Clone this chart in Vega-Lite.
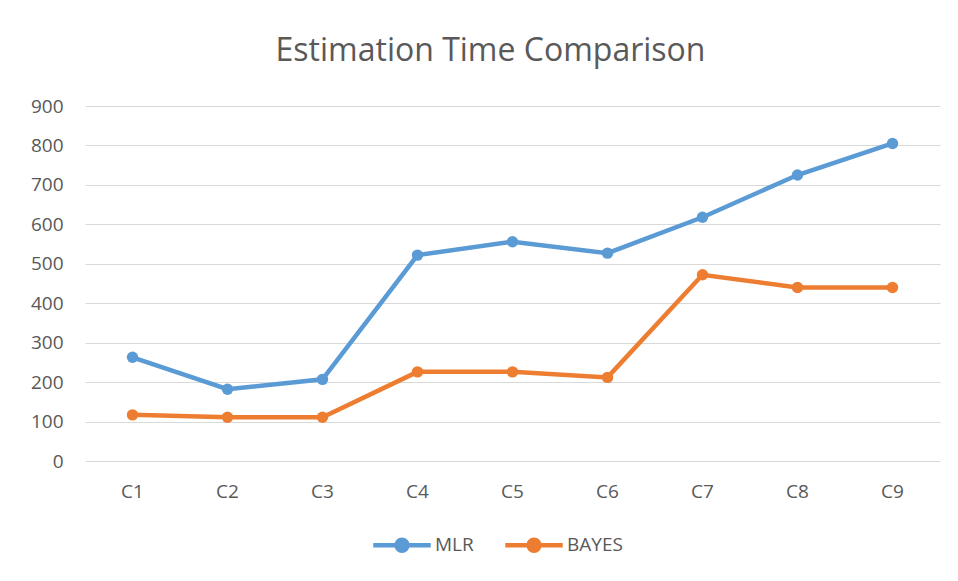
{
  "$schema": "https://vega.github.io/schema/vega-lite/v6.json",
  "autosize": "none",
  "width": 855,
  "height": 355,
  "padding": {"left": 85, "top": 106, "right": 18, "bottom": 120},
  "background": "white",
  "title": {
    "text": "Estimation Time Comparison",
    "anchor": "middle",
    "fontSize": 32,
    "font": "Open Sans",
    "fontWeight": "normal",
    "color": "#595959",
    "offset": 29,
    "dx": -22
  },
  "data": {
    "values": [
      {"cat": "C1", "series": "MLR", "value": 263},
      {"cat": "C2", "series": "MLR", "value": 182},
      {"cat": "C3", "series": "MLR", "value": 207},
      {"cat": "C4", "series": "MLR", "value": 522},
      {"cat": "C5", "series": "MLR", "value": 556},
      {"cat": "C6", "series": "MLR", "value": 527},
      {"cat": "C7", "series": "MLR", "value": 618},
      {"cat": "C8", "series": "MLR", "value": 725},
      {"cat": "C9", "series": "MLR", "value": 805},
      {"cat": "C1", "series": "BAYES", "value": 117},
      {"cat": "C2", "series": "BAYES", "value": 111},
      {"cat": "C3", "series": "BAYES", "value": 111},
      {"cat": "C4", "series": "BAYES", "value": 226},
      {"cat": "C5", "series": "BAYES", "value": 226},
      {"cat": "C6", "series": "BAYES", "value": 212},
      {"cat": "C7", "series": "BAYES", "value": 472},
      {"cat": "C8", "series": "BAYES", "value": 440},
      {"cat": "C9", "series": "BAYES", "value": 440}
    ]
  },
  "encoding": {
    "x": {
      "field": "cat", "type": "nominal", "sort": null,
      "scale": {"type": "band", "paddingInner": 0, "paddingOuter": 0},
      "axis": {
        "title": null, "labelAngle": 0, "ticks": false, "domain": false, "grid": false,
        "labelFontSize": 19, "labelFont": "Open Sans", "labelColor": "#595959", "labelPadding": 21
      }
    },
    "y": {
      "field": "value", "type": "quantitative",
      "scale": {"domain": [0, 900], "nice": false},
      "axis": {
        "title": null, "values": [0, 100, 200, 300, 400, 500, 600, 700, 800, 900],
        "ticks": false, "domain": false, "grid": true, "gridColor": "#d9d9d9", "gridWidth": 1,
        "labelFontSize": 19, "labelFont": "Open Sans", "labelColor": "#595959", "labelPadding": 22
      }
    },
    "color": {
      "field": "series", "type": "nominal",
      "scale": {"domain": ["MLR", "BAYES"], "range": ["#5b9bd5", "#ed7d31"]},
      "legend": {
        "title": null, "orient": "none", "direction": "horizontal",
        "legendX": 286, "legendY": 408,
        "symbolType": "M-1,0H1M-0.19,0A0.19,0.19 0 1 1 0.19,0A0.19,0.19 0 1 1 -0.19,0",
        "symbolSize": 3300, "symbolStrokeWidth": 4.5, "symbolFillColor": null,
        "labelFontSize": 19, "labelFont": "Open Sans", "labelColor": "#595959",
        "columnPadding": 22, "labelOffset": 2
      }
    }
  },
  "layer": [
    {"mark": {"type": "line", "strokeWidth": 4.5}},
    {"mark": {"type": "point", "filled": true, "size": 130, "opacity": 1}}
  ],
  "config": {"view": {"stroke": null}}
}
